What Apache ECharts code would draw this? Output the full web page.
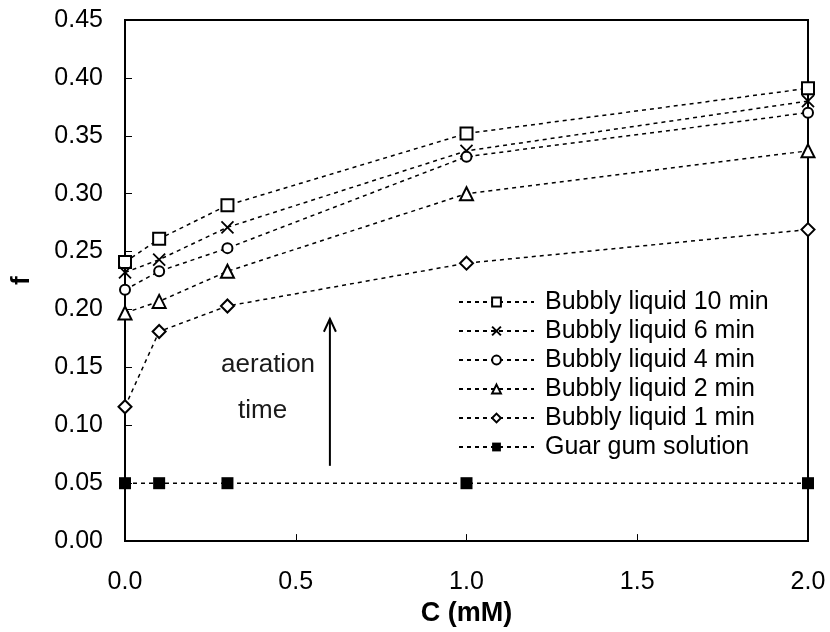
<!DOCTYPE html>
<html><head><meta charset="utf-8">
<script src="https://cdn.jsdelivr.net/npm/echarts@6/dist/echarts.min.js"></script>
<style>html,body{margin:0;padding:0;background:#fff}#c{width:830px;height:632px}</style>
</head><body><div id="c"></div><script>
// ---- data ----
const concentrations = [0, 0.1, 0.3, 1.0, 2.0];
const seriesNames = ['Bubbly liquid 10 min', 'Bubbly liquid 6 min', 'Bubbly liquid 4 min', 'Bubbly liquid 2 min', 'Bubbly liquid 1 min', 'Guar gum solution'];
const f10min = [0.241, 0.261, 0.290, 0.352, 0.391];
const f6min  = [0.232, 0.243, 0.271, 0.337, 0.380];
const f4min  = [0.217, 0.233, 0.253, 0.332, 0.370];
const f2min  = [0.197, 0.207, 0.233, 0.300, 0.337];
const f1min  = [0.116, 0.181, 0.203, 0.240, 0.269];
const fGuar  = [0.05, 0.05, 0.05, 0.05, 0.05];
const yTickLabels = ['0.00','0.05','0.10','0.15','0.20','0.25','0.30','0.35','0.40','0.45'];
const xTickLabels = ['0.0','0.5','1.0','1.5','2.0'];
const arrowFrom = [0.6, 0.065];
const arrowTo = [0.6, 0.192];
const annoTexts = ['aeration', 'time'];
const annoPos = [[0.419, 0.152], [0.403, 0.1125]];

const FONT = '"Liberation Sans", Arial, sans-serif';
const seriesData = [f10min, f6min, f4min, f2min, f1min, fGuar];
const symbols = ['emptyRect', 'path://M0,0L10,10M10,0L0,10', 'emptyCircle', 'emptyTriangle', 'emptyDiamond', 'rect'];
const sizes = [12, 12, 10, 13, 13, 12];

const chart = echarts.init(document.getElementById('c'), null, {renderer: 'canvas'});
const series = seriesNames.map((name, i) => {
  const isX = i === 1;
  return {
    name, type: 'line',
    data: concentrations.map((c, j) => [c, seriesData[i][j]]),
    symbol: symbols[i], symbolSize: sizes[i], showAllSymbol: true,
    lineStyle: {color: '#000', width: 1.5, type: [4, 4]},
    itemStyle: isX ? {color: 'rgba(0,0,0,0)', borderColor: '#000', borderWidth: 1.8} : {color: '#000', borderWidth: 1.5},
    emphasis: {disabled: true},
    z: 3
  };
});
chart.setOption({
  animation: false,
  color: ['#000'],
  grid: {left: 125, right: 22, top: 20, bottom: 88, show: true, borderColor: '#000', borderWidth: 2},
  xAxis: {
    type: 'value', min: 0, max: 2, interval: 0.5,
    name: 'C (mM)', nameLocation: 'middle', nameGap: 57,
    nameTextStyle: {fontFamily: FONT, fontSize: 27, fontWeight: 'bold', color: '#000'},
    axisLine: {lineStyle: {color: '#000', width: 2}},
    axisTick: {inside: true, length: 7, lineStyle: {color: '#000', width: 1}},
    axisLabel: {margin: 29, fontFamily: FONT, fontSize: 25, color: '#000',
      formatter: v => xTickLabels[Math.round(v / 0.5)]},
    splitLine: {show: false}
  },
  yAxis: {
    type: 'value', min: 0, max: 0.45, interval: 0.05,
    name: 'f', nameLocation: 'middle', nameGap: 90, nameRotate: 90,
    nameTextStyle: {fontFamily: FONT, fontSize: 26, fontWeight: 'bold', color: '#000'},
    axisLine: {show: true, lineStyle: {color: '#000', width: 2}},
    axisTick: {show: true, inside: true, length: 7, lineStyle: {color: '#000', width: 1}},
    axisLabel: {margin: 22, fontFamily: FONT, fontSize: 25, color: '#000',
      formatter: v => yTickLabels[Math.round(v / 0.05)]},
    splitLine: {show: false}
  },
  legend: {
    orient: 'vertical', left: 453, top: 284, itemWidth: 75, itemHeight: 11, itemGap: 3,
    textStyle: {fontFamily: FONT, fontSize: 25, color: '#000', lineHeight: 26, padding: [0, 0, 0, 6]},
    data: seriesNames
  },
  series
});

const p0 = chart.convertToPixel({gridIndex: 0}, arrowFrom);
const p1 = chart.convertToPixel({gridIndex: 0}, arrowTo);
const graphics = [
  {type: 'line', shape: {x1: p0[0], y1: p0[1], x2: p1[0], y2: p1[1]}, style: {stroke: '#000', lineWidth: 2}},
  {type: 'polyline', shape: {points: [[p1[0] - 6, p1[1] + 13], [p1[0], p1[1]], [p1[0] + 6, p1[1] + 13]]}, style: {stroke: '#000', lineWidth: 2, fill: null}}
];
annoTexts.forEach((t, i) => {
  const p = chart.convertToPixel({gridIndex: 0}, annoPos[i]);
  graphics.push({type: 'text', x: p[0], y: p[1], style: {text: t, font: '26px ' + FONT, fill: '#1a1a1a', align: 'center', verticalAlign: 'middle'}});
});
chart.setOption({graphic: graphics});
</script></body></html>
